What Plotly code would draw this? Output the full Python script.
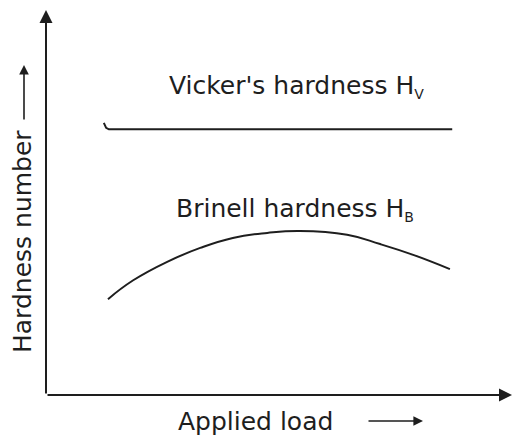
import plotly.graph_objects as go

# Schematic: hardness number versus applied load (arbitrary units)
vickers_load = [1.26, 1.29, 1.31, 1.37, 8.85]
vickers_hardness = [7.07, 7.00, 6.94, 6.90, 6.90]

brinell_load = [1.35, 1.90, 2.64, 3.36, 4.07, 4.82, 5.53, 6.56, 7.28, 8.00, 8.80]
brinell_hardness = [2.49, 2.98, 3.46, 3.82, 4.08, 4.21, 4.26, 4.16, 3.92, 3.64, 3.27]

vickers_label = "Vicker's hardness H<sub><span style='font-size:14px'>V</span></sub>"
brinell_label = "Brinell hardness H<sub><span style='font-size:14px'>B</span></sub>"
x_title = "Applied load"
y_title = "Hardness number"

FONT = "DejaVu Sans"
INK = "#1e1e1e"

fig = go.Figure()
fig.add_trace(go.Scatter(
    x=vickers_load, y=vickers_hardness, mode="lines",
    line=dict(color=INK, width=2),
    hoverinfo="skip", showlegend=False,
))
fig.add_trace(go.Scatter(
    x=brinell_load, y=brinell_hardness, mode="lines",
    line=dict(color=INK, width=2, shape="spline", smoothing=1.3),
    hoverinfo="skip", showlegend=False,
))

annotations = [
    # curve labels
    dict(x=5.45, y=8.01, xref="x", yref="y", text=vickers_label, showarrow=False,
         font=dict(family=FONT, size=25, color=INK), xanchor="center", yanchor="middle"),
    dict(x=5.42, y=4.82, xref="x", yref="y", text=brinell_label, showarrow=False,
         font=dict(family=FONT, size=25, color=INK), xanchor="center", yanchor="middle"),
    # vertical axis with arrowhead
    dict(x=0, y=1, xref="paper", yref="paper", ax=0, ay=385, axref="pixel", ayref="pixel",
         text="", showarrow=True, arrowhead=2, arrowsize=1.3, arrowwidth=2, arrowcolor=INK),
    # horizontal axis with arrowhead
    dict(x=466 / 459, y=0, xref="paper", yref="paper", ax=-466, ay=0,
         text="", showarrow=True, arrowhead=2, arrowsize=1.3, arrowwidth=2, arrowcolor=INK),
    # axis titles
    dict(x=209 / 459, y=-26 / 385, xref="paper", yref="paper", text=x_title, showarrow=False,
         font=dict(family=FONT, size=25, color=INK), xanchor="center", yanchor="middle"),
    dict(x=-24 / 459, y=153 / 385, xref="paper", yref="paper", text=y_title, showarrow=False,
         textangle=-90, font=dict(family=FONT, size=25, color=INK),
         xanchor="center", yanchor="middle"),
    # small direction arrows beside the titles
    dict(x=377 / 459, y=-26 / 385, xref="paper", yref="paper", ax=-56, ay=0,
         text="", showarrow=True, arrowhead=2, arrowsize=1.2, arrowwidth=1.6, arrowcolor=INK),
    dict(x=-22 / 459, y=330 / 385, xref="paper", yref="paper", ax=0, ay=56,
         text="", showarrow=True, arrowhead=2, arrowsize=1.2, arrowwidth=1.6, arrowcolor=INK),
]

fig.update_layout(
    width=513, height=441,
    margin=dict(l=46, r=8, t=10, b=46),
    paper_bgcolor="white", plot_bgcolor="white",
    xaxis=dict(range=[0, 10], visible=False, fixedrange=True),
    yaxis=dict(range=[0, 10], visible=False, fixedrange=True),
    annotations=annotations,
    showlegend=False,
)

fig.write_html("out.html", config={"displayModeBar": False})
